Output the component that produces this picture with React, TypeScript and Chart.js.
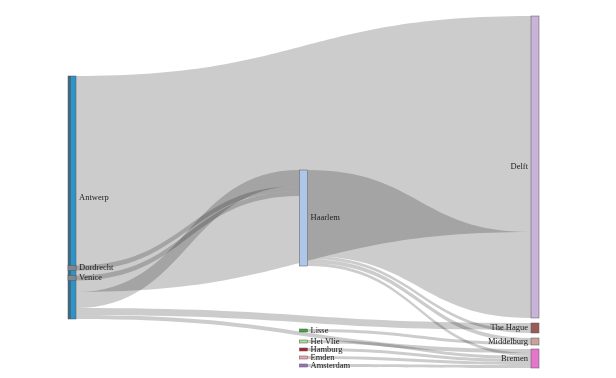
import React, { useEffect, useRef } from 'react';
import { Chart, registerables } from 'chart.js';

Chart.register(...registerables);

// ---- data ----
const nodeLabels = [
  'Antwerp', 'Dordrecht', 'Venice',
  'Haarlem', 'Lisse', 'Het Vlie', 'Hamburg', 'Emden', 'Amsterdam',
  'Delft', 'The Hague', 'Middelburg', 'Bremen',
];
const linkSource = [0, 0, 0, 0, 1, 2, 3, 3, 3, 3, 4, 5, 6, 7, 8];
const linkTarget = [9, 3, 10, 12, 3, 3, 9, 10, 11, 12, 11, 12, 12, 12, 12];
const linkValue = [216, 16, 7, 4, 5, 5, 86, 3, 4, 3, 3, 3, 3, 3, 3];

// ---- layout / style (not data) ----
const nodeColumn = [0, 0, 0, 0.5, 0.5, 0.5, 0.5, 0.5, 0.5, 1, 1, 1, 1];
const nodeTop = [60, 249.5, 259.5, 154, 313, 324, 332, 340, 348, 0, 307, 322, 333];
const nodeColors = [
  '#2f92c8', '#7d8a92', '#7d8a92',
  '#aec7e8', '#3aa83a', '#a3e093', '#b3202e', '#f0a3aa', '#9a72c2',
  '#c9b3d9', '#9a5b58', '#c9a29b', '#e676cc',
];
const Y_MAX = 352;
const NODE_W = 8;

const sankeyPlugin = {
  id: 'sankeyDraw',
  afterDatasetsDraw(chart: any) {
    const ctx = chart.ctx as CanvasRenderingContext2D;
    const xs = chart.scales.x;
    const ys = chart.scales.y;
    const n = nodeLabels.length;
    const inSum = new Array(n).fill(0);
    const outSum = new Array(n).fill(0);
    linkValue.forEach((v, l) => {
      outSum[linkSource[l]] += v;
      inSum[linkTarget[l]] += v;
    });
    const h = inSum.map((v, i) => Math.max(v, outSum[i]));
    const center = (i: number) => nodeTop[i] + h[i] / 2;
    const srcOff: number[] = [];
    const tgtOff: number[] = [];
    const idx = linkValue.map((_, l) => l);
    for (let i = 0; i < n; i++) {
      let off = nodeTop[i];
      idx.filter((l) => linkSource[l] === i)
        .sort((a, b) => center(linkTarget[a]) - center(linkTarget[b]))
        .forEach((l) => { srcOff[l] = off; off += linkValue[l]; });
      off = nodeTop[i];
      idx.filter((l) => linkTarget[l] === i)
        .sort((a, b) => center(linkSource[a]) - center(linkSource[b]))
        .forEach((l) => { tgtOff[l] = off; off += linkValue[l]; });
    }
    const px = (i: number) => xs.getPixelForValue(nodeColumn[i]);
    const py = (v: number) => ys.getPixelForValue(v);

    ctx.save();
    // links
    idx.forEach((l) => {
      const s = linkSource[l];
      const t = linkTarget[l];
      const v = linkValue[l];
      const x0 = px(s) + NODE_W;
      const x1 = px(t);
      const xm = (x0 + x1) / 2;
      const a0 = py(srcOff[l]);
      const b0 = py(srcOff[l] + v);
      const a1 = py(tgtOff[l]);
      const b1 = py(tgtOff[l] + v);
      ctx.beginPath();
      ctx.moveTo(x0, a0);
      ctx.bezierCurveTo(xm, a0, xm, a1, x1, a1);
      ctx.lineTo(x1, b1);
      ctx.bezierCurveTo(xm, b1, xm, b0, x0, b0);
      ctx.closePath();
      ctx.fillStyle = 'rgba(0,0,0,0.2)';
      ctx.fill();
    });
    // nodes
    for (let i = 0; i < n; i++) {
      const x = px(i);
      const y0 = py(nodeTop[i]);
      const y1 = py(nodeTop[i] + h[i]);
      ctx.fillStyle = nodeColors[i];
      ctx.fillRect(x, y0, NODE_W, y1 - y0);
      if (i === 0) {
        ctx.fillStyle = '#3c6d85';
        ctx.fillRect(x, y0, 3, y1 - y0);
      }
      ctx.lineWidth = 0.5;
      ctx.strokeStyle = '#555';
      ctx.strokeRect(x, y0, NODE_W, y1 - y0);
    }
    // labels
    ctx.font = '8.5px "Liberation Serif", "DejaVu Serif", serif';
    ctx.fillStyle = '#222';
    ctx.textBaseline = 'middle';
    for (let i = 0; i < n; i++) {
      const yc = py(center(i));
      if (nodeColumn[i] >= 1) {
        ctx.textAlign = 'right';
        ctx.fillText(nodeLabels[i], px(i) - 3, yc);
      } else {
        ctx.textAlign = 'left';
        ctx.fillText(nodeLabels[i], px(i) + NODE_W + 3, yc);
      }
    }
    ctx.restore();
  },
};

export default function App() {
  const ref = useRef<HTMLCanvasElement | null>(null);
  useEffect(() => {
    document.body.style.margin = '0';
    const canvas = ref.current!;
    const chart = new Chart(canvas, {
      type: 'scatter',
      data: { datasets: [{ data: [] }] },
      options: {
        animation: false,
        responsive: false,
        events: [],
        layout: { padding: { left: 68, right: 85, top: 16, bottom: 10 } },
        plugins: { legend: { display: false }, tooltip: { enabled: false } },
        scales: {
          x: { type: 'linear', min: 0, max: 1, display: false },
          y: { type: 'linear', min: 0, max: Y_MAX, reverse: true, display: false },
        },
      },
      plugins: [sankeyPlugin],
    });
    return () => chart.destroy();
  }, []);
  return (
    <div style={{ width: 616, height: 378, background: '#fff' }}>
      <canvas ref={ref} width={616} height={378} style={{ display: 'block' }} />
    </div>
  );
}
